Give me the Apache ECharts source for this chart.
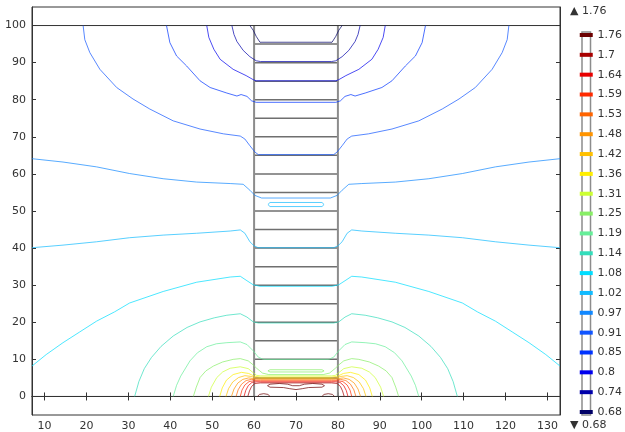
<!DOCTYPE html>
<html>
<head>
<meta charset="utf-8">
<script src="https://cdn.jsdelivr.net/npm/echarts@6/dist/echarts.min.js"></script>
<style>
html,body{margin:0;padding:0;background:#fff;}
#c{width:625px;height:432px;}
</style>
</head>
<body>
<div id="c"></div>
<script>
// ---- axes ----
const xTicks = [10,20,30,40,50,60,70,80,90,100,110,120,130];
const yTicks = [0,10,20,30,40,50,60,70,80,90,100];
// ---- colour legend levels (bottom to top) ----
const levelLabels = ['0.68','0.74','0.8','0.85','0.91','0.97','1.02','1.08','1.14','1.19','1.25','1.31','1.36','1.42','1.48','1.53','1.59','1.64','1.7','1.76'];
const levelColors = ['#000066','#0000aa','#0000ee','#0033ff','#1155ff','#1188ff','#11bbff','#00ddff','#33ddbb','#66ee99','#88ee66','#ccff33','#ffee00','#ffc000','#ff9400','#ff6400','#ff2a00','#e80000','#a80000','#6b0000'];
const maxLabel = '1.76';
const minLabel = '0.68';
// ---- geometry of the layered column ----
const columnWalls = [60, 80];
const columnBottom = 0, columnTop = 100;
const layerYs = [5,10,15,20,25,30,35,40,45,50,55,60,65,70,75,80,85,90,95];
const boundaryYs = [0, 100];
// ---- contour lines [x, y] ----
const c068 = [[59.0,100],[59.8,98.7],[60.5,97.1],[61.4,95.5],[78.6,95.5],[79.5,97.1],[80.2,98.7],[81.0,100]];
const c074 = [[54.7,100],[55.2,97.6],[55.9,95.7],[57.4,93.3],[59.0,91.6],[60.5,90.5],[61.5,90.3],[78.5,90.3],[79.5,90.5],[81.0,91.6],[82.6,93.3],[84.1,95.7],[84.8,97.6],[85.3,100]];
const c080 = [[48.7,100],[49.2,96.8],[50.4,93.6],[51.9,90.9],[55.0,88.2],[58.1,86.5],[59.8,85.4],[60.5,85.1],[79.5,85.1],[80.2,85.4],[81.9,86.5],[85.0,88.2],[88.1,90.9],[89.6,93.6],[90.8,96.8],[91.3,100]];
const c085 = [[39.1,100],[39.9,95.4],[41.5,91.8],[43.9,89.1],[47.1,85.1],[49.5,83.3],[53.5,81.8],[55.9,81.0],[56.9,81.4],[58.3,80.9],[59.4,79.7],[60.5,79.3],[79.5,79.3],[80.6,79.7],[81.7,80.9],[83.1,81.4],[84.1,81.0],[86.5,81.8],[90.5,83.3],[92.9,85.1],[96.1,89.1],[98.5,91.8],[100.1,95.4],[100.9,100]];
const c091 = [[19.2,100],[19.6,96.2],[20.8,92.7],[23.2,88.2],[27.2,83.3],[31.1,80.2],[35.1,77.5],[40.7,74.3],[47.1,72.1],[52.7,70.8],[56.7,70.2],[57.8,69.4],[59.0,67.6],[60.2,65.9],[61.0,65.2],[79.0,65.2],[79.8,65.9],[81.0,67.6],[82.2,69.4],[83.3,70.2],[87.3,70.8],[92.9,72.1],[99.3,74.3],[104.9,77.5],[108.9,80.2],[112.8,83.3],[116.8,88.2],[119.2,92.7],[120.4,96.2],[120.8,100]];
const c097 = [[7,64.1],[14.4,63.2],[22.4,61.9],[30.3,60.1],[38.3,58.7],[46.3,57.8],[54.3,57.4],[57.4,57.2],[59.0,55.6],[60.2,54.2],[61.8,53.5],[78.2,53.5],[79.8,54.2],[81.0,55.6],[82.6,57.2],[85.7,57.4],[93.7,57.8],[101.7,58.7],[109.7,60.1],[117.6,61.9],[125.6,63.2],[133,64.1]];
const c102loop = [[63.8,52.3],[76.2,52.3],[76.7,51.75],[76.2,51.2],[63.8,51.2],[63.3,51.75],[63.8,52.3]];
const c102 = [[7,40.1],[14.4,40.8],[22.4,41.7],[30.3,42.8],[38.3,43.5],[46.3,44.0],[54.3,44.6],[56.7,44.9],[57.8,44.0],[59.0,41.7],[60.0,40.6],[61.0,40.1],[79.0,40.1],[80.0,40.6],[81.0,41.7],[82.2,44.0],[83.3,44.9],[85.7,44.6],[93.7,44.0],[101.7,43.5],[109.7,42.8],[117.6,41.7],[125.6,40.8],[133,40.1]];
const c108 = [[7,8.2],[10.4,11.3],[14.4,14.5],[18.4,17.4],[22.4,20.3],[26.7,22.8],[30.3,25.2],[38.3,28.3],[46.3,30.8],[54.3,32.2],[56.7,32.4],[58.3,31.2],[59.8,30.1],[61.4,29.7],[78.6,29.7],[80.2,30.1],[81.7,31.2],[83.3,32.4],[85.7,32.2],[93.7,30.8],[101.7,28.3],[109.7,25.2],[113.3,22.8],[117.6,20.3],[121.6,17.4],[125.6,14.5],[129.6,11.3],[133,8.2]];
const c114 = [[31.5,0],[32.5,4],[33.8,7.5],[35.5,10.5],[37.8,13.5],[40.7,16.3],[44,18.6],[47.1,20.1],[50.5,21.2],[53.5,21.9],[56.7,22.3],[58.3,21.4],[59.8,20.1],[61,19.8],[79,19.8],[80.2,20.1],[81.7,21.4],[83.3,22.3],[86.5,21.9],[89.5,21.2],[92.9,20.1],[96,18.6],[99.3,16.3],[102.2,13.5],[104.5,10.5],[106.2,7.5],[107.5,4],[108.5,0]];
const c119 = [[40.7,0],[41.5,3],[42.5,5.5],[44.7,9.6],[46.5,11.8],[48.7,13.4],[51,14.2],[53.5,14.5],[56.7,14.7],[58.3,14.0],[59.8,12.3],[61,10.6],[62.2,10],[77.8,10],[79,10.6],[80.2,12.3],[81.7,14.0],[83.3,14.7],[86.5,14.5],[89,14.2],[91.3,13.4],[93.5,11.8],[95.3,9.6],[97.5,5.5],[98.5,3],[99.3,0]];
const c125 = [[45.5,0],[46.2,2.5],[47.1,5.1],[48.5,6.9],[50.3,8.2],[52.5,9.3],[55,10],[56.7,10.2],[58.6,9.6],[59.8,8.5],[60.6,7.6],[62,6.3],[63.5,5.9],[76.5,5.9],[78,6.3],[79.4,7.6],[80.2,8.5],[81.4,9.6],[83.3,10.2],[85,10],[87.5,9.3],[89.7,8.2],[91.5,6.9],[92.9,5.1],[93.8,2.5],[94.5,0]];
const c125loop = [[63.8,7.2],[76.2,7.2],[76.7,6.9],[76.2,6.6],[63.8,6.6],[63.3,6.9],[63.8,7.2]];
const c131 = [[49.1,0],[49.8,2.5],[51.1,5.1],[52.5,6.6],[54.3,7.6],[56.7,8],[58.6,7.5],[59.8,6.4],[60.6,5.7],[61.5,5.55],[78.5,5.55],[79.4,5.7],[80.2,6.4],[81.4,7.5],[83.3,8],[85.7,7.6],[87.5,6.6],[88.9,5.1],[90.2,2.5],[90.9,0]];
const c136 = [[51.8,0],[52.4,2.3],[53.4,4.4],[55,5.9],[57,6.5],[58.7,6.2],[60,5.5],[61.5,5.2],[78.5,5.2],[80,5.5],[81.3,6.2],[83,6.5],[85,5.9],[86.6,4.4],[87.6,2.3],[88.2,0]];
const c142 = [[53.3,0],[53.9,2.1],[54.9,3.9],[56.3,5.1],[57.8,5.6],[59.3,5.4],[60.5,5],[61.5,4.9],[78.5,4.9],[79.5,5],[80.7,5.4],[82.2,5.6],[83.7,5.1],[85.1,3.9],[86.1,2.1],[86.7,0]];
const c148 = [[54.6,0],[55.2,2],[56.1,3.6],[57.3,4.6],[58.7,5],[60,4.8],[61.5,4.65],[78.5,4.65],[80,4.8],[81.3,5],[82.7,4.6],[83.9,3.6],[84.8,2],[85.4,0]];
const c153 = [[55.7,0],[56.2,1.8],[57,3.3],[58.1,4.3],[59.4,4.6],[60.5,4.45],[61.5,4.4],[78.5,4.4],[79.5,4.45],[80.6,4.6],[81.9,4.3],[83,3.3],[83.8,1.8],[84.3,0]];
const c159 = [[56.7,0],[57.1,1.7],[57.8,3.1],[58.8,4],[60,4.25],[61.5,4.15],[78.5,4.15],[80,4.25],[81.2,4],[82.2,3.1],[82.9,1.7],[83.3,0]];
const c164 = [[57.6,0],[58,1.6],[58.6,2.9],[59.5,3.8],[60.5,3.95],[61.5,3.9],[78.5,3.9],[79.5,3.95],[80.5,3.8],[81.4,2.9],[82,1.6],[82.4,0]];
const c170 = [[58.5,0],[58.9,1.5],[59.4,2.7],[60.2,3.5],[61.5,3.65],[78.5,3.65],[79.8,3.5],[80.6,2.7],[81.1,1.5],[81.5,0]];
const c176loop = [[63.8,3.3],[66,3.5],[68,3.3],[69.2,2.9],[70.8,2.9],[72,3.3],[74,3.5],[76.2,3.3],[76.8,2.9],[76.2,2.5],[73,2.4],[71.5,2.1],[70,1.85],[68.5,2.1],[67,2.4],[63.8,2.5],[63.2,2.9],[63.8,3.3]];
const c176arcL = [[60.8,0],[61.3,0.55],[62.3,0.75],[63.3,0.55],[63.8,0]];
const c176arcR = [[76.2,0],[76.7,0.55],[77.7,0.75],[78.7,0.55],[79.2,0]];

const contours = [
  [0,c068],[1,c074],[2,c080],[3,c085],[4,c091],[5,c097],[6,c102loop],[6,c102],[7,c108],
  [8,c114],[9,c119],[10,c125],[10,c125loop],[11,c131],[12,c136],[13,c142],[14,c148],
  [15,c153],[16,c159],[17,c164],[18,c170],[19,c176loop],[19,c176arcL],[19,c176arcR]
];

const chart = echarts.init(document.getElementById('c'), null, {renderer:'canvas'});
const FONT = 'DejaVu Sans';
const series = [];
function lineSeries(data, color, width, z, opacity){
  return {type:'line', xAxisIndex:0, yAxisIndex:0, data:data, symbol:'none', silent:true,
    animation:false, lineStyle:{color:color, width:width, opacity:opacity}, z:z};
}
// layered column
layerYs.forEach(y => series.push(lineSeries([[columnWalls[0],y],[columnWalls[1],y]], '#6f6f6f', 1.5, 2, 1)));
columnWalls.forEach(x => series.push(lineSeries([[x,columnBottom],[x,columnTop]], '#8c8c8c', 2, 2, 1)));
boundaryYs.forEach(y => series.push(lineSeries([[7,y],[133,y]], '#333333', 1, 3, 1)));
// contours
contours.forEach(([li, pts]) => series.push(lineSeries(pts, levelColors[li], 1, 4, 0.7)));
// colour bar
series.push({type:'scatter', xAxisIndex:2, yAxisIndex:2, silent:true, animation:false,
  symbol:'rect', symbolSize:[13,4],
  data: levelLabels.map((l,i)=>({value:[0.5,i], itemStyle:{color:levelColors[i], opacity:1}}))});

const tickStyle = {show:true, inside:true, length:4, lineStyle:{color:'#333', width:1}};
const labelStyle = {color:'#333', fontSize:11, fontFamily:FONT};
chart.setOption({
  backgroundColor:'#fff',
  animation:false,
  grid:[
    {left:32, right:65, top:7, bottom:14, show:true, borderColor:'#333', borderWidth:1},
    {left:582, width:13, top:32, height:383, show:true, borderColor:'#8c8c8c', borderWidth:1.5, backgroundColor:'#fff'}
  ],
  xAxis:[
    {gridIndex:0, type:'value', min:7, max:133, position:'bottom',
      axisLine:{show:true, lineStyle:{color:'#333'}},
      axisTick:Object.assign({customValues:xTicks}, tickStyle),
      axisLabel:Object.assign({customValues:xTicks, margin:6}, labelStyle),
      splitLine:{show:false}},
    {gridIndex:0, type:'value', min:7, max:133, position:'top',
      axisLine:{show:true, lineStyle:{color:'#333'}},
      axisTick:Object.assign({customValues:xTicks}, tickStyle),
      axisLabel:{show:false}, splitLine:{show:false}},
    {gridIndex:1, type:'value', min:0, max:1, show:false}
  ],
  yAxis:[
    {gridIndex:0, type:'value', min:-5, max:105, position:'left',
      axisLine:{show:true, lineStyle:{color:'#333'}},
      axisTick:Object.assign({customValues:yTicks}, tickStyle),
      axisLabel:Object.assign({customValues:yTicks, margin:6}, labelStyle),
      splitLine:{show:false}},
    {gridIndex:0, type:'value', min:-5, max:105, position:'right',
      axisLine:{show:true, lineStyle:{color:'#333'}},
      axisTick:Object.assign({customValues:yTicks}, tickStyle),
      axisLabel:{show:false}, splitLine:{show:false}},
    {gridIndex:1, type:'value', min:-0.15, max:19.15, position:'right',
      axisLine:{show:false}, axisTick:{show:false}, splitLine:{show:false},
      axisLabel:Object.assign({customValues:levelLabels.map((l,i)=>i), margin:7,
        formatter:(v)=>levelLabels[Math.round(v)]}, labelStyle)}
  ],
  graphic:[
    {type:'text', left:570, top:6, style:{text:'\u25B2 '+maxLabel, fill:'#333', font:'11px "DejaVu Sans"'}},
    {type:'text', left:570, top:420, style:{text:'\u25BC '+minLabel, fill:'#333', font:'11px "DejaVu Sans"'}}
  ],
  series:series
});
</script>
</body>
</html>
